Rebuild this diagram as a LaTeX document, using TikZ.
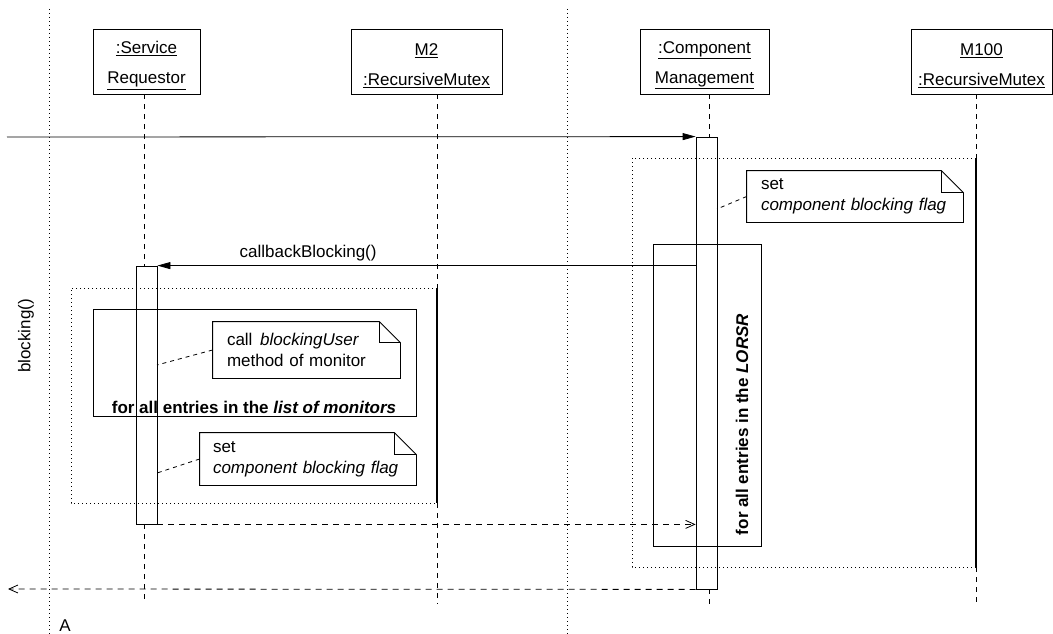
\documentclass[tikz,border=0pt]{standalone}
\usepackage{fontspec}
\setmainfont{Liberation Sans}
\usetikzlibrary{arrows.meta}

% folded-corner outline around a note node: #1 node name, #2 fold size
\newcommand\drawnote[2]{%
  \draw (#1.north west) -- ([xshift=-#2]#1.north east)
        -- ([yshift=-#2]#1.north east) -- (#1.south east)
        -- (#1.south west) -- cycle;
  \draw ([xshift=-#2]#1.north east) -- ([xshift=-#2,yshift=-#2]#1.north east)
        -- ([yshift=-#2]#1.north east);
}

\begin{document}
\begin{tikzpicture}[x=1pt,y=-1pt,
  line width=0.8pt,
  every node/.style={font=\fontsize{17}{21}\selectfont},
  objbox/.style={draw, inner sep=0pt, minimum height=65pt},
  objtext/.style={align=center, yshift=-4pt, font=\fontsize{17}{30}\selectfont},
  actbar/.style={draw, inner sep=0pt, minimum width=21pt},
  lifeline/.style={dash pattern=on 5pt off 5pt},
  dotline/.style={line width=0.7pt, dash pattern=on 1pt off 3pt},
  guardbar/.style={line width=2.2pt},
  msg/.style={-{Triangle[length=13pt,width=7pt]}},
  reply/.style={dash pattern=on 6pt off 5pt, -{Straight Barb[length=9pt,width=8pt]}},
  notelink/.style={dash pattern=on 4pt off 4pt},
  loopbox/.style={draw, inner sep=0pt},
  looplabel/.style={font=\fontsize{17}{21}\selectfont\bfseries},
  notebox/.style={inner xsep=14pt, inner ysep=0pt, align=left}
]
\useasboundingbox (0,0) rectangle (1053,634);

% swimlane separators
\coordinate (d1t) at (49,9);  \coordinate (d1b) at (49,634);
\coordinate (d2t) at (567,9); \coordinate (d2b) at (567,634);
\draw[dotline] (d1t) -- (d1b);
\draw[dotline] (d2t) -- (d2b);

% objects
\node[objbox, minimum width=107pt, label={[objtext]center:\underline{:Service}\\\underline{Requestor}}] (sr) at (146.5,61.5) {};
\node[objbox, minimum width=151pt, label={[objtext]center:\underline{M2}\\\underline{:RecursiveMutex}}] (m2) at (426.5,61.5) {};
\node[objbox, minimum width=129pt, label={[objtext]center:\underline{:Component}\\\underline{Management}}] (cm) at (704.5,61.5) {};
\node[objbox, minimum width=141pt, label={[objtext]center:\underline{M100}\\\underline{:RecursiveMutex}}] (m100) at (981.5,61.5) {};

% lifeline positions
\coordinate (xSR) at (144,0);  \coordinate (xM2) at (437,0);
\coordinate (xCM) at (709,0);  \coordinate (xM100) at (976,0);
\coordinate (endY) at (0,604);

% activation bars
\node[actbar, minimum height=258pt] (aSR) at (146.5,395) {};
\node[actbar, minimum height=452pt] (aCM) at (706.5,363) {};

% mutex regions (dotted frame, thick right edge)
\coordinate (fLtl) at (71,288);  \coordinate (fLtr) at (437,288);
\coordinate (fLbl) at (71,503);  \coordinate (fLbr) at (437,503);
\coordinate (fRtl) at (632,158); \coordinate (fRtr) at (976,158);
\coordinate (fRbl) at (632,567); \coordinate (fRbr) at (976,567);
\draw[dotline] (fLtr) -- (fLtl) -- (fLbl) -- (fLbr);
\draw[guardbar] (fLtr) -- (fLbr);
\draw[dotline] (fRtr) -- (fRtl) -- (fRbl) -- (fRbr);
\draw[guardbar] (fRtr) -- (fRbr);

% lifelines
\draw[lifeline] (sr.south -| xSR) -- (aSR.north -| xSR);
\draw[lifeline] (aSR.south -| xSR) -- (xSR |- endY);
\draw[lifeline] (m2.south -| xM2) -- (fLtr);
\draw[lifeline] (fLbr) -- (xM2 |- endY);
\draw[lifeline] (cm.south -| xCM) -- (aCM.north -| xCM);
\draw[lifeline] (aCM.south -| xCM) -- (xCM |- endY);
\draw[lifeline] (m100.south -| xM100) -- (fRtr);
\draw[lifeline] (fRbr) -- (xM100 |- endY);

% loops
\node[loopbox, minimum width=323pt, minimum height=107pt] (loopL) at (254.5,362.5) {};
\node[looplabel] (loopLlbl) at (254,407) {for all entries in the \textit{list of monitors}};
\node[loopbox, minimum width=108pt, minimum height=302pt] (loopR) at (707,395) {};
\node[looplabel, rotate=90] (loopRlbl) at (742,424.5) {for all entries in the \textit{LORSR}};

% notes
\node[notebox, text width=188pt, minimum height=51pt] (n1) at (855,196.5)
  {\raisebox{-2pt}{set}\\\raisebox{-2pt}{\textit{component blocking flag}}};
\drawnote{n1}{22pt}
\node[notebox, text width=159pt, minimum height=56pt] (n2) at (306.5,350)
  {call\kern2pt{} \textit{blockingUser}\\method of monitor};
\drawnote{n2}{21pt}
\node[notebox, inner xsep=13pt, text width=190pt, minimum height=52pt] (n3) at (308,459)
  {set\\\textit{component blocking flag}};
\drawnote{n3}{22pt}

\coordinate (c1) at (717,209);
\coordinate (c2) at (157,365);
\coordinate (c3) at (157,473);
\draw[notelink] (n1.west) -- (c1);
\draw[notelink] (n2.west) -- (c2);
\draw[notelink] (n3.west) -- (c3);

% messages
\coordinate (inStart) at (7,137);
\coordinate (outEnd) at (8,589);
\draw[msg] (inStart) -- (aCM.north west);
\draw[msg] (aCM.west |- aSR.north) -- node[above=1pt, pos=0.72] (cbl) {callbackBlocking()} (aSR.north east);
\draw[reply] (aSR.south east) -- (aSR.south -| aCM.west);
\draw[reply] (aCM.south west) -- (outEnd);

% side labels
\node[rotate=90] (blk) at (26,336) {blocking()};
\node (lblA) at (65,626) {A};
\end{tikzpicture}
\end{document}
